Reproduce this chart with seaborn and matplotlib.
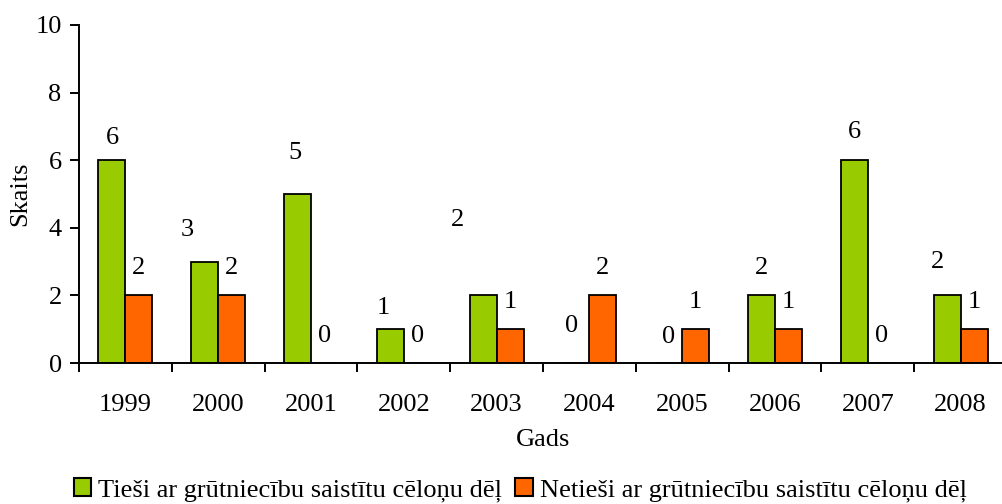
import matplotlib
matplotlib.use("Agg")
import matplotlib.pyplot as plt
import numpy as np
import pandas as pd
import seaborn as sns
from matplotlib.patches import Patch

years = ["1999", "2000", "2001", "2002", "2003", "2004", "2005", "2006", "2007", "2008"]
direct = [6, 3, 5, 1, 2, 0, 0, 2, 6, 2]
indirect = [2, 2, 0, 0, 1, 2, 1, 1, 0, 1]
series = ["Tieši ar grūtniecību saistītu cēloņu dēļ",
          "Netieši ar grūtniecību saistītu cēloņu dēļ"]

# label placement quirks of the original (category units / data units)
direct_dx = [0, -0.19, -0.03, -0.08, -0.28, -0.05, 0, 0, 0, -0.1]
direct_dy = [0.66, 0.93, 1.2, 0.63, 2.23, 1.1, 0.77, 0.8, 0.83, 1.0]
indirect_dy = 0.8

GREEN = "#99CC00"
ORANGE = "#FF6600"

df = pd.DataFrame({
    "Gads": years * 2,
    "Skaits": direct + indirect,
    "Cēlonis": [series[0]] * len(years) + [series[1]] * len(years),
})

sns.set_style("ticks")
plt.rcParams["font.family"] = ["Liberation Serif", "DejaVu Serif"]
plt.rcParams.update({
    "text.color": "black", "axes.labelcolor": "black",
    "xtick.color": "black", "ytick.color": "black",
})
FS = 19

fig = plt.figure(figsize=(10.02, 5.04), dpi=100)
ax = fig.add_axes([79 / 1002, 1 - 363 / 504, 928 / 1002, 338 / 504])

sns.barplot(
    data=df, x="Gads", y="Skaits", hue="Cēlonis", hue_order=series,
    palette=[GREEN, ORANGE], saturation=1, width=0.58, edgecolor="black",
    linewidth=1.3, errorbar=None, legend=False, ax=ax,
)

for patch, dx, dy in zip(ax.containers[0], direct_dx, direct_dy):
    cx = patch.get_x() + patch.get_width() / 2
    ax.text(cx + dx, patch.get_height() + dy, f"{patch.get_height():.0f}",
            ha="center", va="center", fontsize=FS)
for patch in ax.containers[1]:
    cx = patch.get_x() + patch.get_width() / 2
    ax.text(cx, patch.get_height() + indirect_dy, f"{patch.get_height():.0f}",
            ha="center", va="center", fontsize=FS)

ax.set_xlim(-0.5, 9.5)
ax.set_ylim(0, 10)
ax.set_yticks([0, 2, 4, 6, 8, 10])
ax.set_xticks(np.arange(-0.5, 10, 1), minor=True)
ax.tick_params(axis="x", which="major", length=0, pad=22, labelsize=FS)
ax.tick_params(axis="x", which="minor", length=6.5, width=1.4, direction="out")
ax.tick_params(axis="y", length=6.5, width=1.4, direction="out", pad=6, labelsize=FS)

for s in ["top", "right"]:
    ax.spines[s].set_visible(False)
for s in ["left", "bottom"]:
    ax.spines[s].set_linewidth(1.4)
    ax.spines[s].set_color("black")

ax.set_xlabel("Gads", fontsize=FS, labelpad=10)
ax.set_ylabel("Skaits", fontsize=FS, labelpad=3)

handles = [Patch(facecolor=GREEN, edgecolor="black", linewidth=1.5),
           Patch(facecolor=ORANGE, edgecolor="black", linewidth=1.5)]
fig.legend(handles, series, loc="center", bbox_to_anchor=(0.519, 0.028),
           ncol=2, frameon=False, fontsize=FS, handlelength=0.66,
           handleheight=0.66, handletextpad=0.27, columnspacing=0.5,
           borderpad=0, borderaxespad=0)

fig.savefig("out.png", dpi=100)
